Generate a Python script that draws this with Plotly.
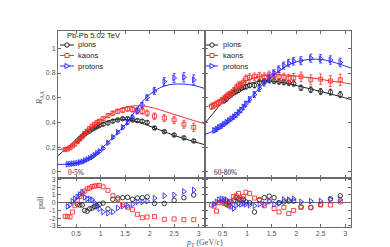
import plotly.graph_objects as go
from plotly.subplots import make_subplots

# ---------------- data ----------------
pi_pt = [0.525,0.575,0.625,0.675,0.725,0.775,0.825,0.875,0.925,0.975,1.05,1.15,1.25,1.35,1.45,1.55,1.65,1.75,1.85,1.95,2.1,2.3,2.5,2.7,2.9]
k_pt = [0.275,0.325,0.375,0.425,0.475,0.525,0.575,0.625,0.675,0.725,0.775,0.825,0.875,0.925,0.975,1.05,1.15,1.25,1.35,1.45,1.55,1.65,1.75,1.85,1.95,2.1,2.3,2.5,2.7,2.9]
p_pt = [0.325,0.375,0.425,0.475,0.525,0.575,0.625,0.675,0.725,0.775,0.825,0.875,0.925,0.975,1.05,1.15,1.25,1.35,1.45,1.55,1.65,1.75,1.85,1.95,2.1,2.3,2.5,2.7,2.9]

# 0-5 %
pi_raa_c = [0.25,0.27,0.29,0.305,0.32,0.33,0.345,0.355,0.365,0.375,0.385,0.395,0.41,0.42,0.43,0.43,0.42,0.415,0.41,0.40,0.355,0.325,0.298,0.275,0.25]
pi_err_c = [0.008,0.008,0.008,0.008,0.008,0.008,0.009,0.009,0.009,0.009,0.010,0.010,0.010,0.010,0.011,0.011,0.011,0.011,0.012,0.012,0.012,0.012,0.013,0.013,0.013]
k_raa_c = [0.18,0.185,0.195,0.21,0.225,0.245,0.265,0.285,0.31,0.33,0.35,0.37,0.385,0.40,0.41,0.43,0.455,0.475,0.49,0.50,0.51,0.505,0.50,0.49,0.475,0.45,0.435,0.42,0.385,0.36]
k_err_c = [0.010,0.010,0.010,0.010,0.010,0.011,0.011,0.011,0.012,0.012,0.012,0.013,0.013,0.014,0.014,0.015,0.016,0.017,0.018,0.019,0.020,0.021,0.022,0.023,0.024,0.026,0.028,0.030,0.032,0.034]
p_raa_c = [0.062,0.064,0.066,0.068,0.072,0.077,0.082,0.09,0.10,0.11,0.12,0.135,0.15,0.165,0.19,0.235,0.28,0.32,0.36,0.40,0.44,0.49,0.54,0.60,0.655,0.73,0.76,0.765,0.745]
p_err_c = [0.004,0.004,0.004,0.004,0.004,0.005,0.005,0.005,0.006,0.006,0.006,0.007,0.007,0.008,0.009,0.010,0.011,0.012,0.014,0.016,0.018,0.020,0.022,0.024,0.028,0.032,0.036,0.038,0.040]

# 60-80 %
pi_raa_p = [0.575,0.59,0.61,0.625,0.64,0.65,0.66,0.675,0.685,0.69,0.70,0.70,0.725,0.735,0.74,0.735,0.73,0.725,0.72,0.715,0.68,0.665,0.65,0.645,0.625]
pi_err_p = [0.018,0.018,0.018,0.018,0.018,0.018,0.018,0.019,0.019,0.019,0.019,0.020,0.020,0.020,0.020,0.021,0.021,0.021,0.022,0.022,0.022,0.023,0.024,0.024,0.025]
k_raa_p = [0.53,0.54,0.55,0.56,0.575,0.59,0.61,0.625,0.635,0.655,0.68,0.70,0.705,0.725,0.755,0.765,0.77,0.775,0.77,0.785,0.78,0.77,0.765,0.755,0.76,0.77,0.745,0.75,0.735,0.745]
k_err_p = [0.025,0.025,0.025,0.025,0.025,0.026,0.026,0.026,0.027,0.027,0.027,0.028,0.028,0.028,0.029,0.029,0.030,0.030,0.031,0.031,0.032,0.033,0.034,0.035,0.036,0.038,0.040,0.042,0.044,0.046]
p_raa_p = [0.335,0.345,0.36,0.37,0.385,0.40,0.415,0.43,0.445,0.46,0.48,0.50,0.525,0.55,0.585,0.625,0.675,0.72,0.76,0.80,0.83,0.86,0.88,0.895,0.90,0.92,0.915,0.905,0.885]
p_err_p = [0.018,0.018,0.018,0.018,0.018,0.019,0.019,0.019,0.020,0.020,0.020,0.021,0.021,0.022,0.022,0.023,0.024,0.025,0.026,0.027,0.028,0.029,0.030,0.031,0.032,0.033,0.034,0.034,0.035]

# model curves
curve_pt = [0.13,0.3,0.5,0.7,0.9,1.1,1.3,1.5,1.7,1.9,2.1,2.3,2.5,2.7,2.9,3.12]
pi_model_c = [0.13,0.19,0.26,0.32,0.37,0.405,0.425,0.425,0.41,0.385,0.355,0.325,0.295,0.27,0.245,0.22]
k_model_c = [0.18,0.19,0.24,0.31,0.38,0.44,0.49,0.52,0.535,0.53,0.515,0.49,0.465,0.44,0.415,0.39]
p_model_c = [0.06,0.062,0.072,0.10,0.15,0.22,0.30,0.38,0.49,0.59,0.655,0.695,0.71,0.71,0.70,0.675]
pi_model_p = [0.39,0.47,0.565,0.64,0.69,0.72,0.735,0.735,0.725,0.71,0.69,0.67,0.65,0.63,0.61,0.585]
k_model_p = [0.52,0.55,0.60,0.66,0.72,0.755,0.775,0.785,0.785,0.78,0.77,0.76,0.75,0.735,0.725,0.71]
p_model_p = [0.30,0.33,0.38,0.44,0.52,0.61,0.70,0.77,0.83,0.875,0.90,0.91,0.91,0.895,0.87,0.84]

# pulls
pi_pull_c = [-0.2,-0.3,-0.3,-1.0,-1.1,-0.8,-0.7,-0.5,-0.4,-0.2,-0.05,-0.8,0.45,0.6,0.65,0.7,0.45,0.6,0.65,0.75,-0.1,-0.1,0.3,0.65,1.0]
k_pull_c = [-1.75,-1.8,-1.85,-1.2,-0.4,0.3,0.8,1.15,1.5,1.8,1.9,2.1,2.15,2.2,2.25,2.05,1.6,0.9,0.4,-0.25,-0.6,-0.9,-1.5,-1.95,-1.85,-1.8,-2.15,-2.1,-2.2,-2.2]
p_pull_c = [-0.5,-0.3,0.2,0.5,0.75,1.05,1.4,0.7,0.5,0.5,0.4,0.0,-0.5,-0.8,-1.2,-1.35,-1.2,-0.7,-0.45,-0.4,-0.2,0.1,0.1,0.2,0.6,0.9,1.0,1.45,1.65]
pi_pull_p = [0.1,-0.2,-0.4,0.1,0.3,0.65,0.5,0.4,0.45,0.1,0.0,-1.2,0.4,0.65,0.85,0.65,0.0,0.1,0.2,0.2,-0.55,-0.65,-0.2,0.5,0.9]
k_pull_p = [-0.3,-0.45,-1.1,0.0,0.2,-0.1,0.2,-0.2,0.2,0.8,0.9,1.2,0.5,0.8,1.35,1.2,0.6,0.3,-0.4,0.2,-0.75,-1.2,-0.6,-1.4,-1.0,-0.6,-0.6,-0.3,-0.3,0.1]
p_pull_p = [-0.2,0.1,0.4,0.5,0.45,0.4,0.0,-0.5,-0.75,-0.35,-0.1,-0.2,-0.1,-0.2,-0.3,-0.4,-0.2,-0.2,0.2,-0.2,-0.1,0.4,0.4,0.5,0.1,0.2,0.2,0.4,0.4]

species = ["pions", "kaons", "protons"]
x_ticks = [0.5, 1, 1.5, 2, 2.5, 3]
x_ticktext = ["0.5", "1", "1.5", "2", "2.5", "3"]
raa_ticks = [0, 0.2, 0.4, 0.6, 0.8, 1]
raa_ticktext = ["0", "0.2", "0.4", "0.6", "0.8", "1"]
pull_ticks = [-3, -2, -1, 0, 1, 2, 3]
pull_ticktext = ["-3", "-2", "-1", "0", "1", "2", "3"]

# ---------------- style ----------------
C_PI, C_K, C_P = "#222222", "#ff3030", "#2a2aff"
colors = [C_PI, C_K, C_P]
symbols = ["circle-open", "square-open", "triangle-right-open"]
msizes = [4.5, 4, 5]
FRAME = "#6a6a6a"
TICKC = "#555555"

W, H = 390, 247
ML, MR, MT, MB = 50, 47, 23, 28
PW, PH = W - ML - MR, H - MT - MB

def px2x(px):
    return (px - ML) / PW

def py2y(py):
    return (H - MB - py) / PH

fig = make_subplots(rows=2, cols=2, row_heights=[0.75, 0.25],
                    horizontal_spacing=0, vertical_spacing=0)

panels = [
    (1, [pi_pt, k_pt, p_pt], [pi_raa_c, k_raa_c, p_raa_c], [pi_err_c, k_err_c, p_err_c],
     [pi_model_c, k_model_c, p_model_c], [pi_pull_c, k_pull_c, p_pull_c]),
    (2, [pi_pt, k_pt, p_pt], [pi_raa_p, k_raa_p, p_raa_p], [pi_err_p, k_err_p, p_err_p],
     [pi_model_p, k_model_p, p_model_p], [pi_pull_p, k_pull_p, p_pull_p]),
]

for col, pts, raas, errs, models, pulls in panels:
    for i in range(3):
        fig.add_trace(go.Scatter(x=curve_pt, y=models[i], mode="lines",
                                 line=dict(color=colors[i], width=1, shape="spline"),
                                 showlegend=False, hoverinfo="skip"), row=1, col=col)
    for i in range(3):
        fig.add_trace(go.Scatter(x=pts[i], y=raas[i], mode="markers",
                                 marker=dict(symbol=symbols[i], size=msizes[i], color=colors[i],
                                             line=dict(width=0.9, color=colors[i])),
                                 error_y=dict(type="data", array=errs[i], color=colors[i],
                                              thickness=0.8, width=1.5),
                                 showlegend=False), row=1, col=col)
        fig.add_trace(go.Scatter(x=pts[i], y=pulls[i], mode="markers",
                                 marker=dict(symbol=symbols[i], size=msizes[i], color=colors[i],
                                             line=dict(width=0.9, color=colors[i])),
                                 showlegend=False), row=2, col=col)

axis_common = dict(showline=True, mirror="ticks", linecolor=FRAME, linewidth=1,
                   ticks="inside", ticklen=3, tickcolor=FRAME, tickwidth=1,
                   showgrid=False, zeroline=False,
                   tickfont=dict(family="Liberation Sans", size=7, color=TICKC))

for r in (1, 2):
    for c in (1, 2):
        fig.update_xaxes(range=[0.13, 3.12], tickvals=x_ticks, ticktext=x_ticktext,
                         showticklabels=(r == 2), **axis_common, row=r, col=c)
    for c in (1, 2):
        if r == 1:
            fig.update_yaxes(range=[-0.05, 1.14], tickvals=raa_ticks, ticktext=raa_ticktext,
                             showticklabels=(c == 1), **axis_common, row=r, col=c)
        else:
            ac = dict(axis_common)
            ac["zeroline"] = True
            fig.update_yaxes(range=[-3.15, 3.2], tickvals=pull_ticks, ticktext=pull_ticktext,
                             showticklabels=(c == 1), zerolinecolor=FRAME, zerolinewidth=1,
                             **ac, row=r, col=c)

shapes = []
annotations = []
SANS = "Liberation Sans"
SERIF = "Liberation Serif"

def text(px, py, s, size=7.5, family=SANS, color="#222222", xanchor="left", angle=0):
    annotations.append(dict(x=px2x(px), y=py2y(py), xref="paper", yref="paper", text=s,
                            showarrow=False, xanchor=xanchor, yanchor="middle", textangle=angle,
                            font=dict(family=family, size=size, color=color)))

def legend_entry(x0, x1, py, i):
    cx = (x0 + x1) / 2
    shapes.append(dict(type="line", xref="paper", yref="paper", x0=px2x(x0), x1=px2x(x1),
                       y0=py2y(py), y1=py2y(py), line=dict(color=colors[i], width=1)))
    base = dict(xref="paper", yref="paper", xsizemode="pixel", ysizemode="pixel",
                xanchor=px2x(cx), yanchor=py2y(py), line=dict(color=colors[i], width=1),
                fillcolor="white")
    if i == 0:
        shapes.append(dict(type="circle", x0=-2.2, x1=2.2, y0=-2.2, y1=2.2, **base))
    elif i == 1:
        shapes.append(dict(type="rect", x0=-2, x1=2, y0=-2, y1=2, **base))
    else:
        shapes.append(dict(type="path", path="M -2,-2.5 L 2.6,0 L -2,2.5 Z", **base))

leg_y = [37, 47.5, 58]
text(57, 28, "Pb-Pb 5.02 TeV", size=7.6)
for i, name in enumerate(species):
    legend_entry(52, 66, leg_y[i], i)
    text(68, leg_y[i], name, size=7.6)
    legend_entry(198, 210, leg_y[i], i)
    text(213, leg_y[i], name, size=7.6)

text(58, 164, "0-5%", size=7.3, family=SERIF)
text(203.5, 164, "60-80%", size=7.3, family=SERIF)
text(32, 90, "<i>R</i><sub>AA</sub>", size=8, family=SERIF, color=TICKC, xanchor="center", angle=-90)
text(32, 195, "pull", size=8, family=SERIF, color=TICKC, xanchor="center", angle=-90)
text(196.5, 234.5, "<i>p</i><sub>T</sub> (GeV/<i>c</i>)", size=8, family=SERIF, color=TICKC,
     xanchor="center")

fig.update_layout(width=W, height=H, margin=dict(l=ML, r=MR, t=MT, b=MB),
                  paper_bgcolor="white", plot_bgcolor="white", showlegend=False,
                  shapes=shapes, annotations=annotations)

fig.write_html("out.html")
